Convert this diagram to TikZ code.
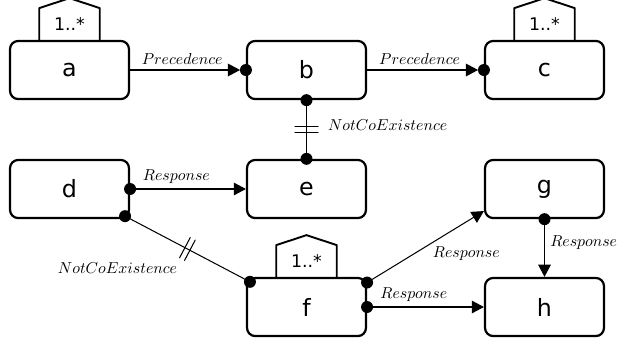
\documentclass[tikz,border=0pt]{standalone}
\usepackage{fontspec}
\newfontfamily\boxfont{DejaVu Sans}
\usetikzlibrary{arrows.meta}
\usetikzlibrary{positioning}
\usetikzlibrary{calc}
\usetikzlibrary{decorations.markings}
\tikzset{
  act/.style={draw, line width=1.4pt, rounded corners=0.18cm, minimum width=2.64cm, minimum height=1.29cm, inner sep=0pt, font=\boxfont\fontsize{15}{18}\selectfont},
  card/.style={anchor=south, minimum width=1.33cm, minimum height=0.69cm, inner sep=0pt, font=\boxfont\fontsize{11}{13}\selectfont},
  conn/.style={line width=0.65pt},
  flow/.style={-{Triangle[length=0.27cm, width=0.28cm]}},
  notco/.style={postaction={decorate, decoration={markings, mark=at position 0.5 with {\draw[line width=0.65pt] (-2.8,-11.5) -- (-2.8,11.5) (2.8,-11.5) -- (2.8,11.5);}}}}
}

\begin{document}
\begin{tikzpicture}[line cap=round, line join=round, x=0.0222cm, y=-0.0222cm]
  \useasboundingbox (0,0) rectangle (618,341);
  \node[act] (a) at (69.5,70) {a};
  \node[act] (b) at (306.5,70) {b};
  \node[act] (c) at (544.5,70) {c};
  \node[act] (d) at (69.5,189) {d};
  \node[act] (e) at (306.5,189) {e};
  \node[act] (g) at (544.5,189) {g};
  \node[act] (f) at (306.5,307) {f};
  \node[act] (h) at (544.5,307) {h};
  % cardinality badges
  \foreach \n in {a,c,f}{
    \node[card] (card\n) at (\n.north) {1..*};
    \draw[line width=1.2pt] (card\n.south west) -- (card\n.north west) -- ([yshift=0.222cm]card\n.north) -- (card\n.north east) -- (card\n.south east);
  }
  \coordinate (d1) at ($(d.south east)+(-5,-3)$);
  \coordinate (f1) at ($(f.north west)+(4,5)$);
  % precedence
  \draw[conn, flow, shorten >=0.13cm] (a) -- node[pos=0.45, above] {$Precedence$} (b);
  \draw[conn, flow, shorten >=0.13cm] (b) -- node[pos=0.45, above] {$Precedence$} (c);
  \fill (b.west) circle (0.133cm);
  \fill (c.west) circle (0.133cm);
  % not coexistence
  \draw[conn, notco] (b) -- node[pos=0.43, right=0.35cm] {$NotCoExistence$} (e);
  \fill (b.south) circle (0.133cm);
  \fill (e.north) circle (0.133cm);
  \draw[conn, notco] (d1) -- node[midway, below left=0.18cm and 0.1cm] {$NotCoExistence$} (f1);
  \fill (d1) circle (0.133cm);
  \fill (f1) circle (0.133cm);
  % response
  \draw[conn, flow] (d) -- node[pos=0.4, above] {$Response$} (e);
  \fill (d.east) circle (0.133cm);
  \draw[conn, flow] (f.22) -- node[pos=0.85, below=0.42cm] {$Response$} (g.200);
  \fill (f.22) circle (0.133cm);
  \draw[conn, flow] (f) -- node[pos=0.4, above] {$Response$} (h);
  \fill (f.east) circle (0.133cm);
  \draw[conn, flow] (g) -- node[pos=0.4, right] {$Response$} (h);
  \fill (g.south) circle (0.133cm);
\end{tikzpicture}
\end{document}
